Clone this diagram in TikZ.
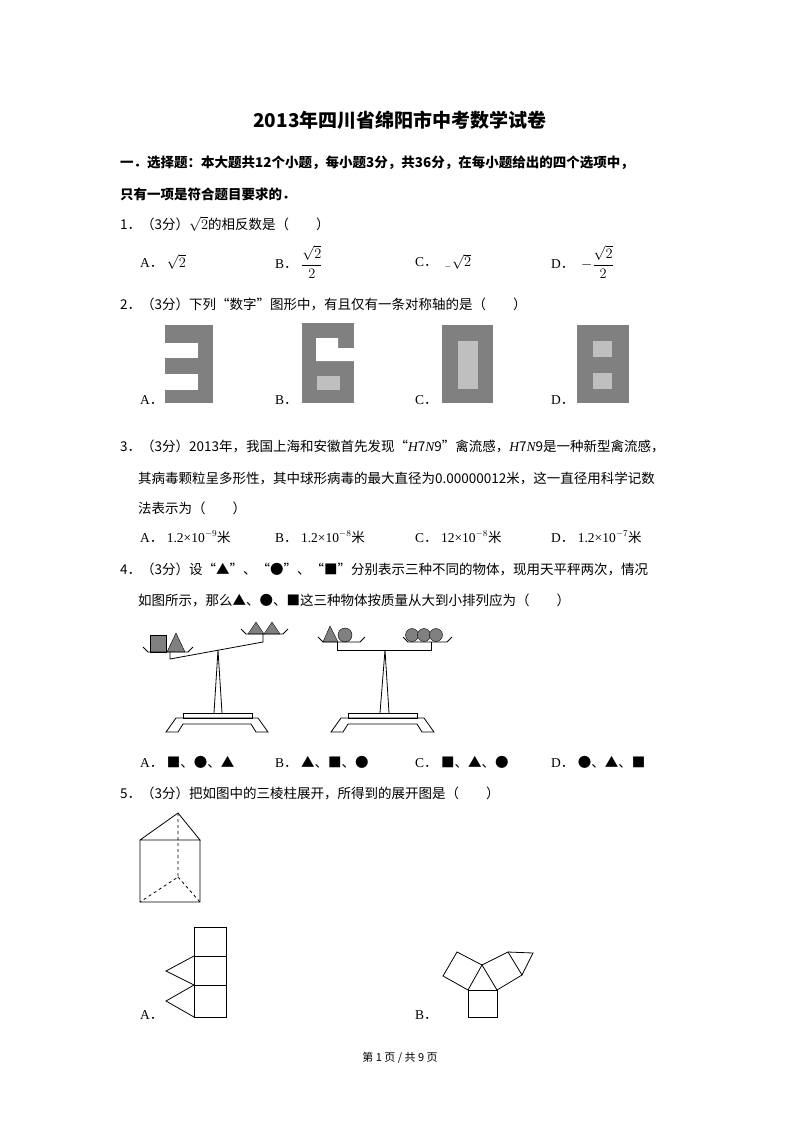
\documentclass[tikz,border=0pt]{standalone}
\usepackage{fontspec}
\setmainfont{Liberation Serif}
\newfontfamily\cjk{Noto Sans CJK SC}
\newcommand{\dt}{{\cjk ．}}
\newcommand{\vit}[1]{{\rmfamily\itshape #1}}
\begin{document}
\begin{tikzpicture}[x=1pt,y=-1pt,
  txt/.style={anchor=west,inner sep=0pt,font=\cjk\fontsize{13.5}{16}\selectfont},
  opt/.style={anchor=west,inner sep=0pt,font=\fontsize{13.5}{16}\selectfont},
  ln/.style={line width=0.8pt}]
\useasboundingbox[fill=white] (0,0) rectangle (800,1132);
\colorlet{gray}{black!50}
\node[inner sep=0pt,font=\cjk\bfseries\fontsize{19}{22}\selectfont] (title) at (400,120) {2013年四川省绵阳市中考数学试卷};
\node[txt,font=\cjk\bfseries\fontsize{13.5}{16}\selectfont] (h1) at (120,163) {一．选择题：本大题共12个小题，每小题3分，共36分，在每小题给出的四个选项中，};
\node[txt,font=\cjk\bfseries\fontsize{13.5}{16}\selectfont] (h2) at (120,194) {只有一项是符合题目要求的．};
% Q1
\node[txt] (q1) at (120,224) {1．（3分）$\sqrt{2}$的相反数是（　　）};
\node[opt] (o1a) at (140,262) {A\dt\ $\sqrt{2}$};
\node[opt] (o1b) at (275,262) {B\dt\ $\displaystyle\frac{\sqrt{2}}{2}$};
\node[opt] (o1c) at (415,262) {C\dt\ \ ${}_{-}\sqrt{2}$};
\node[opt] (o1d) at (551,262) {D\dt\ \ $\displaystyle-\frac{\sqrt{2}}{2}$};
% Q2
\node[txt] (q2) at (120,304) {2．（3分）下列“数字”图形中，有且仅有一条对称轴的是（　　）};
\fill[gray] (165,325) rectangle (213,403);
\fill[white] (165,343) rectangle (198,358);
\fill[white] (165,374) rectangle (198,390);
\fill[gray] (302,323) rectangle (354,403);
\fill[white] (316,338) -- (338,338) -- (338,348) -- (354,348) -- (354,361) -- (316,361) -- cycle;
\fill[black!25] (317,376) rectangle (340,390);
\fill[gray] (442,325) rectangle (493,403);
\fill[black!25] (458,341) rectangle (478,389);
\fill[gray] (577,325) rectangle (629,403);
\fill[black!25] (593,341) rectangle (612,357);
\fill[black!25] (593,373) rectangle (612,389);
\node[opt] (o2a) at (140,400) {A\dt};
\node[opt] (o2b) at (275,400) {B\dt};
\node[opt] (o2c) at (415,400) {C\dt};
\node[opt] (o2d) at (551,400) {D\dt};
% Q3
\node[txt] (q3) at (120,446) {3．（3分）2013年，我国上海和安徽首先发现“\vit{H}7\vit{N}9”禽流感，\vit{H}7\vit{N}9是一种新型禽流感，};
\node[txt] (q3b) at (138,478) {其病毒颗粒呈多形性，其中球形病毒的最大直径为0.00000012米，这一直径用科学记数};
\node[txt] (q3c) at (138,508) {法表示为（　　）};
\node[opt] (o3a) at (140,537) {A\dt\ 1.2×10$^{-9}${\cjk 米}};
\node[opt] (o3b) at (275,537) {B\dt\ 1.2×10$^{-8}${\cjk 米}};
\node[opt] (o3c) at (415,537) {C\dt\ 12×10$^{-8}${\cjk 米}};
\node[opt] (o3d) at (551,537) {D\dt\ 1.2×10$^{-7}${\cjk 米}};
% Q4
\node[txt] (q4) at (120,569) {4．（3分）设“▲”、“●”、“■”分别表示三种不同的物体，现用天平秤两次，情况};
\node[txt] (q4b) at (138,600) {如图所示，那么▲、●、■这三种物体按质量从大到小排列应为（　　）};
% left balance
\fill[gray,draw=black,thin] (150,635) rectangle (166,652);
\fill[gray,draw=black,thin] (167,652) -- (176,633) -- (185,652) -- cycle;
\draw[ln] (143,647) -- (148,652) -- (188,652) -- (193,647);
\draw[ln] (170,652) -- (170,659) -- (263,642) -- (263,634);
\fill[gray,draw=black,thin] (248,634) -- (256,622) -- (264,634) -- cycle;
\fill[gray,draw=black,thin] (264,634) -- (272,622) -- (280,634) -- cycle;
\draw[ln] (241,629) -- (246,634) -- (283,634) -- (288,629);
\draw[ln] (214,713) -- (218,650) -- (222,713);
\draw[ln] (183,718) rectangle (252,713);
\draw[ln] (176,718) -- (258,718) -- (268,732) -- (256,732) -- (251,724) -- (183,724) -- (178,732) -- (166,732) -- cycle;
% right balance
\fill[gray,draw=black,thin] (323,642) -- (330,626) -- (338,642) -- cycle;
\fill[gray,draw=black,thin] (345,635) circle (7);
\draw[ln] (318,637) -- (323,642) -- (360,642) -- (365,637);
\fill[gray,draw=black,thin] (412,635) circle (6.5);
\fill[gray,draw=black,thin] (424,635) circle (6.5);
\fill[gray,draw=black,thin] (436,635) circle (6.5);
\draw[ln] (403,637) -- (408,642) -- (447,642) -- (452,637);
\draw[ln] (337,642) -- (337,650) -- (431,650) -- (431,642);
\draw[ln] (380,713) -- (385,650) -- (389,713);
\draw[ln] (348,718) rectangle (417,713);
\draw[ln] (341,718) -- (424,718) -- (434,732) -- (422,732) -- (417,724) -- (348,724) -- (343,732) -- (331,732) -- cycle;
\node[opt] (o4a) at (140,762) {A\dt\ {\cjk ■、●、▲}};
\node[opt] (o4b) at (275,762) {B\dt\ {\cjk ▲、■、●}};
\node[opt] (o4c) at (415,762) {C\dt\ {\cjk ■、▲、●}};
\node[opt] (o4d) at (551,762) {D\dt\ {\cjk ●、▲、■}};
% Q5
\node[txt] (q5) at (120,793) {5．（3分）把如图中的三棱柱展开，所得到的展开图是（　　）};
\coordinate (P) at (178,813); \coordinate (L) at (140,840); \coordinate (R) at (200,840);
\coordinate (BL) at (140,902); \coordinate (BR) at (200,902); \coordinate (H) at (178,877);
\draw[ln] (L) -- (P) -- (R) -- (L) -- (BL) -- (BR) -- (R);
\draw[ln,dashed] (P) -- (H) -- (BL) (H) -- (BR);
% net A
\draw[ln] (194,927) rectangle (226,1017);
\draw[ln] (194,956) -- (226,956) (194,985) -- (226,985);
\draw[ln] (194,956) -- (166,971) -- (194,985) -- (166,1001) -- (194,1017);
\node[opt] (o5a) at (140,1015) {A\dt};
% net B
\draw[ln] (468,990) rectangle (497,1017);
\draw[ln] (468,990) -- (482,965) -- (497,990);
\draw[ln] (482,965) -- (457,952) -- (443,976) -- (468,990);
\draw[ln] (482,965) -- (508,952) -- (522,975) -- (497,990);
\draw[ln] (508,952) -- (533,953) -- (522,975);
\node[opt] (o5b) at (415,1015) {B\dt};
\node[inner sep=0pt,font=\cjk\fontsize{11}{13}\selectfont] (foot) at (400,1058) {第 1 页 / 共 9 页};
\end{tikzpicture}
\end{document}
